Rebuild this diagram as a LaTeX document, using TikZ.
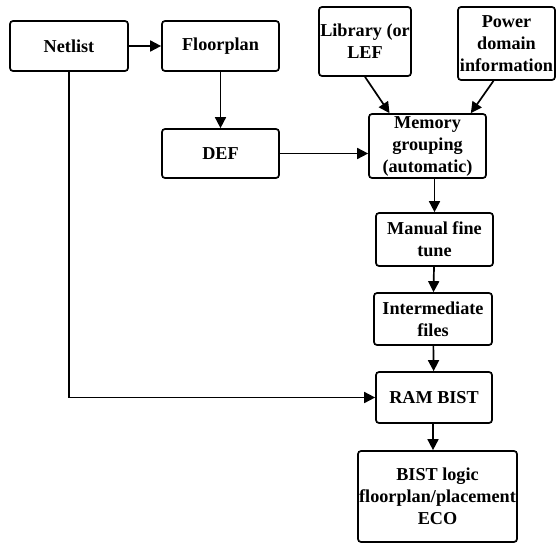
\documentclass[tikz,border=0pt]{standalone}
\usepackage{fontspec}
\setmainfont{Liberation Serif}
\usetikzlibrary{arrows.meta,positioning,calc}
\begin{document}
\begin{tikzpicture}[x=1pt,y=-1pt,
    box/.style={draw, line width=1.7pt, rounded corners=3pt, align=center,
      inner sep=0pt, font=\bfseries\fontsize{18.2}{22}\selectfont},
    flow/.style={line width=1.7pt, -{Triangle[length=11pt,width=11pt]}}]
    \useasboundingbox (0,0) rectangle (556,546);

    % Inputs
    \node[box, minimum width=118pt, minimum height=50pt] (netlist) at (69,46) {Netlist};
    \node[box, minimum width=117pt, minimum height=50pt] (floorplan) at (220.5,46) {Floorplan};
    \node[box, minimum width=117pt, minimum height=49pt] (def) at (220.5,153.5) {DEF};
    \node[box, minimum width=92pt, minimum height=69pt] (library) at (365,41.5) {Library (or\\LEF};
    \node[box, minimum width=97pt, minimum height=73pt] (power) at (506.5,43.5) {Power\\domain\\information};

    % Main flow
    \node[box, minimum width=117pt, minimum height=64pt] (memory) at (427.5,146) {Memory\\grouping\\(automatic)};
    \node[box, minimum width=117pt, minimum height=53pt] (manual) at (434.5,239.5) {Manual fine\\tune};
    \node[box, minimum width=118pt, minimum height=52pt] (inter) at (433,319) {Intermediate\\files};
    \node[box, minimum width=116pt, minimum height=51pt] (rambist) at (434,397.5) {RAM BIST};
    \node[box, minimum width=159pt, minimum height=91pt] (bistlogic) at (437.5,496.5) {BIST logic\\floorplan/placement\\ECO};

    % Connectors
    \draw[flow] (netlist) -- (floorplan);
    \draw[flow] (floorplan) -- (def);
    \draw[flow] (def.east) -- (def.east -| memory.west);
    \draw[flow] (library.south) -- ($(memory.north)!0.64!(memory.north west)$);
    \draw[flow] ($(power.south)+(-13,0)$) -- ($(memory.north)!0.73!(memory.north east)$);
    \draw[flow] (manual.north |- memory.south) -- (manual.north);
    \draw[flow] (manual) -- (inter);
    \draw[flow] (inter) -- (rambist);
    \draw[flow] (rambist.south -| inter.south) -- (bistlogic.north -| inter.south);
    \draw[flow] (netlist.south) |- (rambist.west);
\end{tikzpicture}
\end{document}
